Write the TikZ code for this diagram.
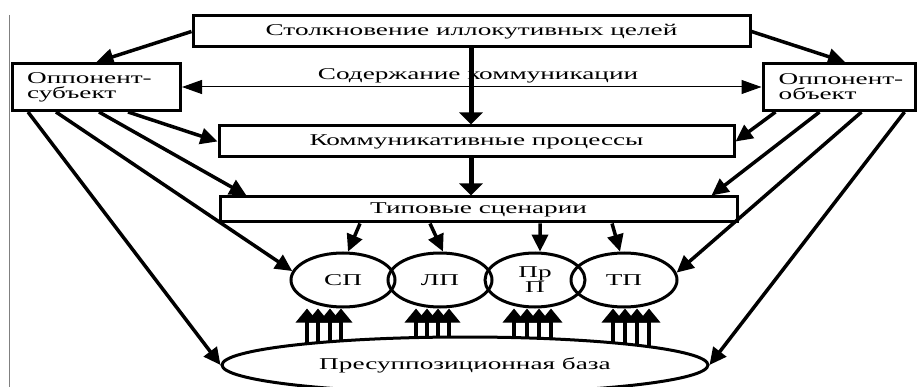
\documentclass[tikz,border=0pt]{standalone}
\usepackage{fontspec}
\newfontfamily\ff[FakeStretch=1.65]{Liberation Serif}
\newcommand\tf{\ff\fontsize{16.5}{15}\selectfont}
\usetikzlibrary{arrows.meta,shapes.geometric,calc}
\begin{document}
\begin{tikzpicture}[x=1pt,y=-1pt,
  box/.style={draw,line width=3pt,rectangle,inner sep=0pt,font=\tf},
  txt/.style={font=\tf,inner sep=0pt,align=left,anchor=west},
  ell/.style={draw,ellipse,line width=3pt,inner sep=0pt,font=\tf,align=center},
  arr/.style={line width=3.5pt,-{Triangle[length=17pt,width=16pt]}},
  varr/.style={line width=5pt,-{Triangle[length=12pt,width=23pt]}},
  uarr/.style={line width=4.5pt,-{Triangle[length=14pt 0,width=22pt 0]}},
  carr/.style={line width=1pt,{Triangle[length=20pt,width=14pt]}-{Triangle[length=20pt,width=14pt]}}]
\useasboundingbox (0,0) rectangle (917,387);
\draw[gray,line width=1pt] (9,15) -- (9,387);

\node[box,minimum width=557pt,minimum height=31pt] (top) at (471.5,31.5) {Столкновение иллокутивных целей};
\node[box,minimum width=168pt,minimum height=47pt] (subj) at (96.5,87) {};
\node[txt] (subjt) at ($(subj.west)+(16,0)$) {Оппонент-\\субъект};
\node[box,minimum width=152pt,minimum height=47pt] (obj) at (839,87) {};
\node[txt] (objt) at ($(obj.west)+(17,0)$) {Оппонент-\\объект};
\node[box,minimum width=515pt,minimum height=31pt] (comm) at (476.5,141.5) {Коммуникативные процессы};
\node[box,minimum width=517pt,minimum height=25pt] (typ) at (478.5,209.5) {\raisebox{1.5pt}{Типовые сценарии}};
\node[font=\tf] (cont) at (478,76) {Содержание коммуникации};

\node[ell,minimum width=104pt,minimum height=54pt] (sp) at (343,280) {СП};
\node[ell,minimum width=104pt,minimum height=54pt] (lp) at (440,280) {ЛП};
\node[ell,minimum width=100pt,minimum height=54pt] (prp) at (535,280) {Пр\\П};
\node[ell,minimum width=106pt,minimum height=54pt] (tp) at (624,280) {ТП};
\node[ell,minimum width=486pt,minimum height=56pt] (base) at (465,365) {Пресуппозиционная база};

\draw[carr] (subj.east) -- (obj.west);
\coordinate (vx) at (471,0);
\draw[varr] (top.south -| vx) -- (comm.north -| vx);
\draw[varr] (comm.south -| vx) -- (typ.north -| vx);

\draw[arr] (top.west) -- (subj.north);
\draw[arr] (top.east) -- ($(obj.north)+(6,0)$);

\draw[arr] ($(subj.south west)+(117,0)$) -- (comm.west);
\draw[arr] ($(subj.south west)+(88,0)$) -- ($(typ.north west)+(28,0)$);
\draw[arr] ($(subj.south west)+(45,0)$) -- (sp.170);
\draw[arr] ($(subj.south west)+(17,0)$) -- (base.west);

\draw[arr] ($(obj.south west)+(14,0)$) -- (comm.east);
\draw[arr] ($(obj.south west)+(58,0)$) -- ($(typ.north east)+(-27,0)$);
\draw[arr] ($(obj.south west)+(100,0)$) -- (tp.8);
\draw[arr] ($(obj.south west)+(143,0)$) -- (base.east);

\draw[arr] ($(typ.south west)+(141.5,0)$) -- (sp.80);
\draw[arr] ($(typ.south west)+(211.5,0)$) -- (lp.84);
\draw[arr] ($(typ.south west)+(321.5,0)$) -- (prp.80);
\draw[arr] ($(typ.south west)+(393.5,0)$) -- (tp.98);

\foreach \c/\xs in {sp/307,sp/318,sp/330,sp/341,lp/416,lp/427,lp/438,lp/449,prp/514,prp/527,prp/539,prp/551,tp/613,tp/625,tp/637,tp/649}{
  \pgfmathsetmacro\yb{365-28*sqrt(1-((\xs-465)/243)^2)}
  \coordinate (b\xs) at (\xs,\yb);
  \draw[uarr] (b\xs) -- (\c.south -| b\xs);
}
\end{tikzpicture}
\end{document}
